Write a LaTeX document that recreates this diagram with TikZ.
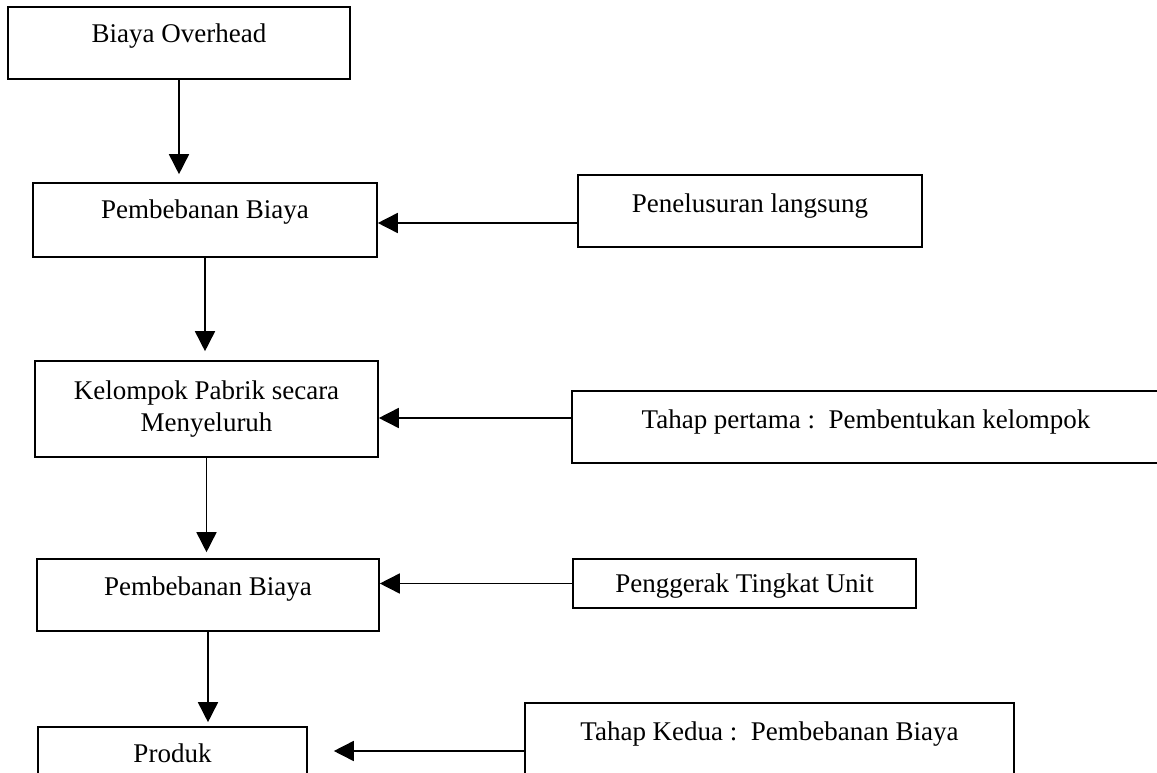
\documentclass[tikz,border=0pt]{standalone}
\usepackage{fontspec}
\setmainfont{Liberation Serif}
\usetikzlibrary{arrows.meta}
\tikzset{
  box/.style={draw, line width=1.6pt, inner sep=0pt, font=\fontsize{27}{32}\selectfont},
  one/.style={text height=18pt, text depth=#1pt},
  arr/.style={line width=1.6pt, -{Triangle[length=20pt,width=20pt]}},
}
\begin{document}
\begin{tikzpicture}[x=1pt,y=-1pt]
\useasboundingbox (0,0) rectangle (1157,773);
\clip (0,0) rectangle (1157,773);
% left column
\node[box, one=18, minimum width=342pt, minimum height=72pt] (b1) at (179,43) {Biaya Overhead};
\node[box, one=21, minimum width=344pt, minimum height=74pt] (b2) at (205,220) {Pembebanan Biaya};
\node[box, align=center, minimum width=343pt, minimum height=96pt] (b3) at (206.5,409) {Kelompok Pabrik secara\\Menyeluruh};
\node[box, one=18, minimum width=342pt, minimum height=72pt] (b4) at (208,595) {Pembebanan Biaya};
\node[box, one=20, minimum width=269pt, minimum height=72pt] (b5) at (172.5,763) {Produk};
% right column
\node[box, one=16, minimum width=344pt, minimum height=72pt] (pl) at (750,211) {Penelusuran langsung};
\node[box, one=16, minimum width=588pt, minimum height=72pt] (tp) at (866,427) {Tahap pertama :\ \ Pembentukan kelompok};
\node[box, one=0, minimum width=343pt, minimum height=49pt] (pg) at (744.5,583.5) {Penggerak Tingkat Unit};
\node[box, one=16, minimum width=489pt, minimum height=72pt] (tk) at (769.5,739) {Tahap Kedua :\ \ Pembebanan Biaya};
% vertical connectors
\draw[arr, shorten >=8pt] (b1.south) -- (b1.south |- b2.north);
\draw[arr, shorten >=9pt] (b2.south) -- (b2.south |- b3.north);
\draw[arr, shorten >=6pt] (b3.south) -- (b3.south |- b4.north);
\draw[arr, shorten >=4pt] (b4.south) -- (b4.south |- b5.north);
% horizontal connectors
\coordinate (c1) at ([yshift=-12pt]pl.west);
\coordinate (c2) at ([yshift=9pt]tp.west);
\coordinate (c3) at (pg.west);
\coordinate (c4) at ([yshift=-12pt]tk.west);
\draw[arr] (c1) -- (b2.east |- c1);
\draw[arr] (c2) -- (b3.east |- c2);
\draw[arr] (c3) -- (b4.east |- c3);
\draw[arr, shorten >=26pt] (c4) -- (b5.east |- c4);
\end{tikzpicture}
\end{document}
